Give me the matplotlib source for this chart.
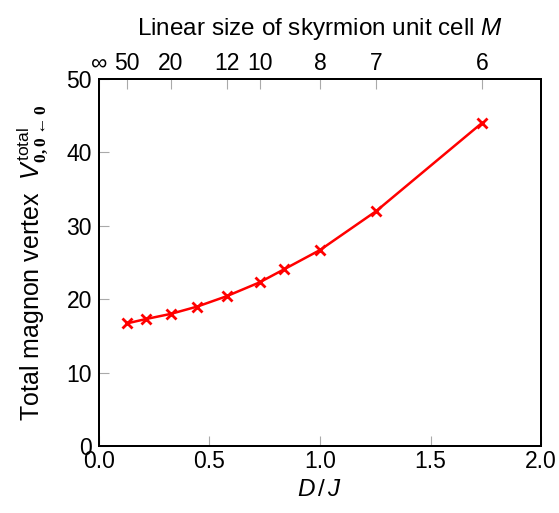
import numpy as np
import matplotlib
matplotlib.use("Agg")
import matplotlib.pyplot as plt

plt.rcParams['font.family'] = ['Liberation Sans', 'DejaVu Sans']
plt.rcParams['mathtext.fontset'] = 'custom'
plt.rcParams['mathtext.rm'] = 'Liberation Sans'
plt.rcParams['mathtext.it'] = 'Liberation Sans:italic'
plt.rcParams['mathtext.bf'] = 'Liberation Serif:bold'

# data
d_over_j = [0.126, 0.213, 0.325, 0.445, 0.577, 0.727, 0.839, 1.0, 1.254, 1.732]
vertex = [16.7, 17.3, 18.0, 19.0, 20.4, 22.3, 24.1, 26.7, 32.0, 44.0]

# top axis: unit cell size M, placed at D/J = tan(2*pi/M)
top_M = [np.inf, 50, 20, 12, 10, 8, 7, 6]
top_labels = ['\u221e', '50', '20', '12', '10', '8', '7', '6']
x_ticks = [0.0, 0.5, 1.0, 1.5, 2.0]
y_ticks = [0, 10, 20, 30, 40, 50]

fig = plt.figure(figsize=(5.59, 5.13), dpi=100)
ax = fig.add_axes([0.177, 0.1306, 0.791, 0.7154])

ax.plot(d_over_j, vertex, color='red', lw=1.8, marker='x', ms=6.5, mew=2)

ax.set_xlim(0, 2)
ax.set_ylim(0, 50)
ax.set_xticks(x_ticks)
ax.set_xticklabels(['%.1f' % v for v in x_ticks])
ax.set_yticks(y_ticks)
ax.tick_params(direction='in', length=7, width=0.8, color='#aaaaaa',
               labelsize=16.5, pad=3)
ax.tick_params(axis='y', pad=5)
for s in ax.spines.values():
    s.set_linewidth(1.4)

ax.set_xlabel(r'$D\,/\,J$', fontsize=17.5, labelpad=4)
ax.set_ylabel(r'Total magnon vertex  $V^{\mathrm{total}}_{\mathbf{0,0\leftarrow0}}$',
              fontsize=18, labelpad=12)

top = ax.twiny()
top.set_xlim(ax.get_xlim())
top_pos = [0.0 if np.isinf(m) else np.tan(2 * np.pi / m) for m in top_M]
top.set_xticks(top_pos)
top.set_xticklabels(top_labels)
top.tick_params(direction='in', length=7, width=0.8, color='#aaaaaa',
                labelsize=16.5, pad=3)
for s in top.spines.values():
    s.set_linewidth(1.4)
top.set_xlabel(r'Linear size of skyrmion unit cell $M$', fontsize=17.5, labelpad=12)

fig.savefig('out.png', dpi=100)
